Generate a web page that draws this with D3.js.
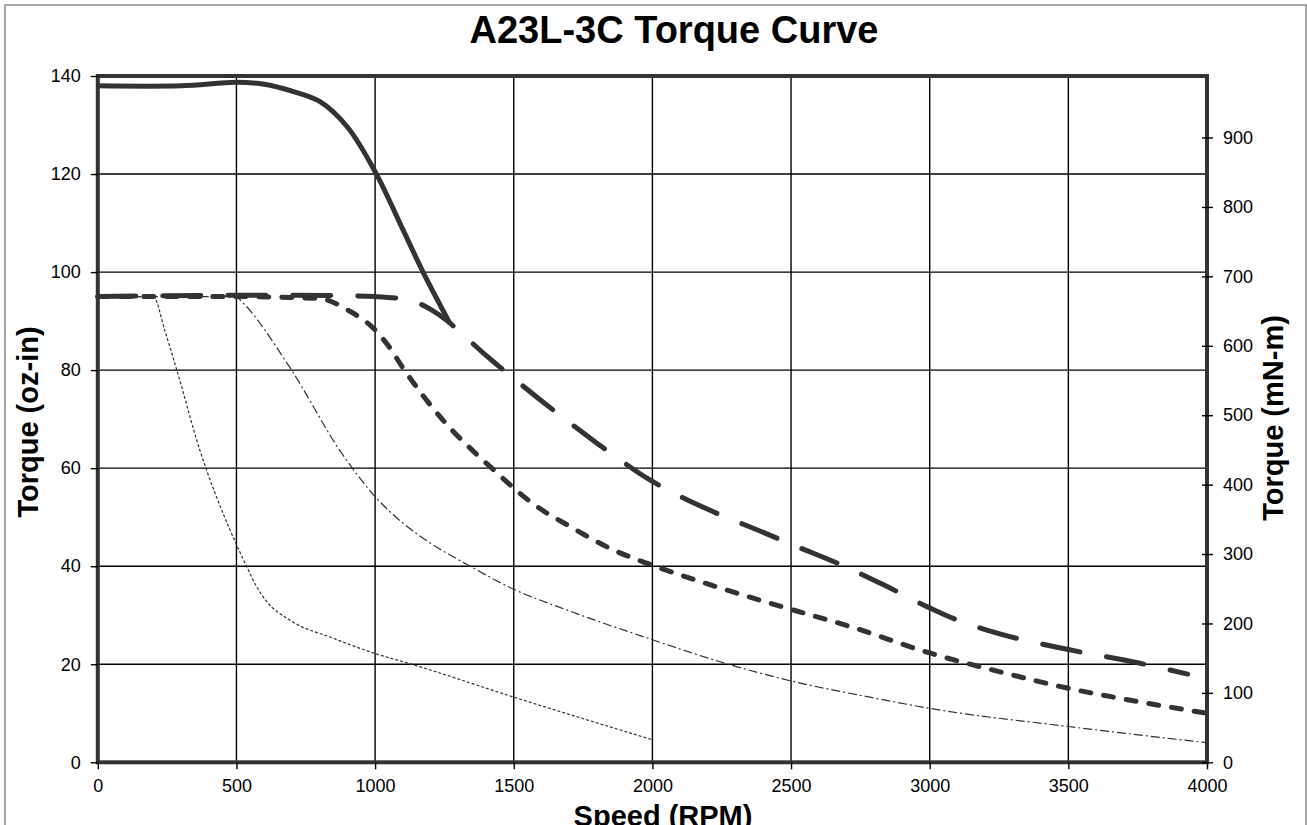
<!DOCTYPE html>
<html><head><meta charset="utf-8">
<script src="https://cdn.jsdelivr.net/npm/d3@7"></script>
<style>
html,body{margin:0;padding:0;background:#fff;overflow:hidden}
text{font-family:"Liberation Sans",Arial,sans-serif;fill:#000}
</style></head>
<body><svg id="c" width="1307" height="825"></svg>
<script>
const titleText = "A23L-3C Torque Curve";
const xTitle = "Speed (RPM)";
const yTitleLeft = "Torque (oz-in)";
const yTitleRight = "Torque (mN-m)";
const xTicks = [0,500,1000,1500,2000,2500,3000,3500,4000];
const yTicks = [0,20,40,60,80,100,120,140];
const yRightTicks = [0,100,200,300,400,500,600,700,800,900];
const OZIN_TO_MNM = 7.0615;

// series: [speed RPM, torque oz-in]
const solidCurve = [[0,138],[300,138],[500,138.7],[600,138.3],[700,136.9],[800,134.8],[900,129.6],[1000,120.5],[1100,108.7],[1173,100],[1270,89.5]];
const longDashCurve = [[0,95],[600,95.3],[850,95.2],[1000,95],[1100,94.5],[1150,93.8],[1200,92.4],[1264,89.9],[1300,88.1],[1400,83],[1500,78.3],[1680,70.2],[1800,65.1],[2000,57.3],[2200,51.6],[2400,46.9],[2500,44.5],[2700,39.8],[2830,36.3],[3000,31.5],[3100,29],[3240,26.4],[3500,23],[3750,20.3],[3930,18]];
const shortDashCurve = [[0,95],[500,95],[800,94.6],[900,92.3],[1000,88.2],[1050,84.8],[1100,80.5],[1234,70.5],[1415,60.3],[1583,52.2],[1700,48.2],[1860,43.3],[2000,40.2],[2160,37.1],[2316,34.3],[2500,31.2],[2713,27.7],[3000,22.3],[3250,18.5],[3500,15.1],[3750,12.4],[4000,10]];
const dashDotCurve = [[0,95],[500,95],[519,94],[693,80.5],[880,63],[1000,54.2],[1100,48.8],[1200,44.7],[1330,40.4],[1500,35.3],[1690,31.1],[2000,25],[2274,20],[2500,16.6],[2820,12.9],[3000,11],[3500,7.3],[4000,4]];
const dottedCurve = [[0,95],[200,95],[242,88],[285,80],[369,63.5],[393,59.5],[450,51],[501,44.3],[537,39.9],[573,35.8],[609,32.8],[693,29],[849,25.3],[1000,22.2],[1138,19.9],[1500,13.3],[2000,4.6]];

const svg = d3.select("#c");
const L=97.8, R=1207, T=76, B=762.3;
const x = d3.scaleLinear().domain([0,4000]).range([L,R]);
const y = d3.scaleLinear().domain([0,140]).range([B,T]);
const yR = d3.scaleLinear().domain([0,140*OZIN_TO_MNM]).range([B,T]);

// outer border
svg.append("rect").attr("x",5).attr("y",5).attr("width",1301).attr("height",840)
  .attr("fill","none").attr("stroke","#8a8a8a").attr("stroke-width",1.5);

// grid
const g = svg.append("g");
g.selectAll(".vg").data(xTicks).join("line")
  .attr("x1",d=>x(d)).attr("x2",d=>x(d)).attr("y1",T).attr("y2",B)
  .attr("stroke","#000").attr("stroke-width",1.4);
g.selectAll(".hg").data(yTicks).join("line")
  .attr("y1",d=>y(d)).attr("y2",d=>y(d)).attr("x1",L).attr("x2",R)
  .attr("stroke","#000").attr("stroke-width",1.4);

// curves
const line = d3.line().x(d=>x(d[0])).y(d=>y(d[1])).curve(d3.curveMonotoneX);
const lineSmooth = d3.line().x(d=>x(d[0])).y(d=>y(d[1])).curve(d3.curveCatmullRom.alpha(0.5));
const cg = svg.append("g").attr("fill","none").attr("stroke","#333");
cg.append("path").attr("d",line(dottedCurve)).attr("stroke-width",1.2).attr("stroke-dasharray","3,2");
cg.append("path").attr("d",line(dashDotCurve)).attr("stroke-width",1.2).attr("stroke-dasharray","9,3,2,3");
cg.append("path").attr("d",line(shortDashCurve)).attr("stroke-width",5).attr("stroke-linecap","round").attr("stroke-dasharray","10,13");
cg.append("path").attr("d",line(longDashCurve)).attr("stroke-width",5).attr("stroke-linecap","round").attr("stroke-dasharray","38,27");
cg.append("path").attr("d",lineSmooth(solidCurve)).attr("stroke-width",5).attr("stroke-linejoin","round");

// frame
svg.append("rect").attr("x",L).attr("y",T).attr("width",R-L).attr("height",B-T)
  .attr("fill","none").attr("stroke","#333").attr("stroke-width",4);

// axes
const fmt = d3.format("d");
const axL = d3.axisLeft(y).tickValues(yTicks).tickFormat(fmt).tickSize(7).tickPadding(10);
const axB = d3.axisBottom(x).tickValues(xTicks).tickFormat(fmt).tickSize(7).tickPadding(10);
const axR = d3.axisRight(yR).tickValues(yRightTicks).tickFormat(fmt).tickSize(6).tickPadding(10);
function style(sel){
  sel.attr("font-size",18).attr("font-family","Liberation Sans, Arial, sans-serif");
  sel.select(".domain").remove();
  sel.selectAll(".tick line").attr("stroke","#000").attr("stroke-width",1.4);
  sel.selectAll(".tick text").attr("font-size",18).attr("fill","#000");
}
svg.append("g").attr("transform",`translate(${L},0)`).call(axL).call(style);
svg.append("g").attr("transform",`translate(0,${B})`).call(axB).call(style);
const gr = svg.append("g").attr("transform",`translate(${R},0)`).call(axR).call(style);
gr.selectAll(".tick line").attr("x1",-5);

// titles
svg.append("text").attr("x",674).attr("y",43).attr("text-anchor","middle")
  .attr("font-size",38).attr("font-weight","bold").text(titleText);
svg.append("text").attr("x",663).attr("y",826).attr("text-anchor","middle")
  .attr("font-size",29).attr("font-weight","bold").text(xTitle);
svg.append("text").attr("transform","translate(38,422) rotate(-90)").attr("text-anchor","middle")
  .attr("font-size",29).attr("font-weight","bold").text(yTitleLeft);
svg.append("text").attr("transform","translate(1283,418) rotate(-90)").attr("text-anchor","middle")
  .attr("font-size",29).attr("font-weight","bold").text(yTitleRight);
</script></body></html>
